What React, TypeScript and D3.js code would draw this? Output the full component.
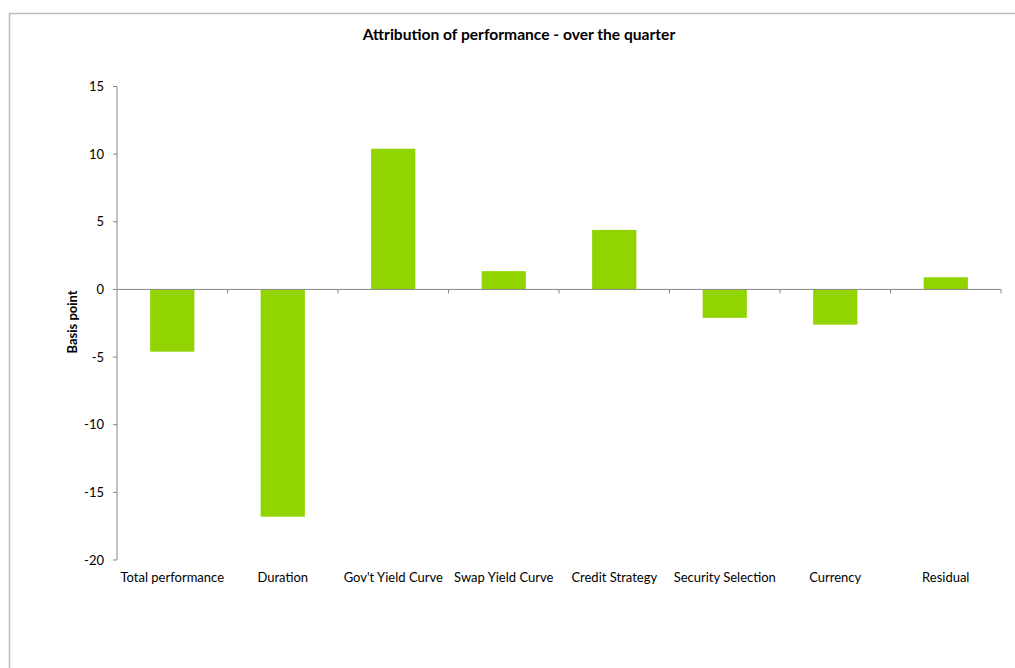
import React from "react";
import * as d3 from "d3";

const categories = ["Total performance", "Duration", "Gov't Yield Curve", "Swap Yield Curve", "Credit Strategy", "Security Selection", "Currency", "Residual"];
const values = [-4.6, -16.8, 10.4, 1.35, 4.4, -2.1, -2.6, 0.9];
const yTicks = [15, 10, 5, 0, -5, -10, -15, -20];

const W = 1015, H = 668;
const left = 117, right = 1001, top = 86.5, bottom = 560;

export default function App() {
  const x = d3.scaleBand<string>().domain(categories).range([left, right]).paddingInner(0.6).paddingOuter(0.3);
  const xb = d3.scaleBand<string>().domain(categories).range([left, right]);
  const y = d3.scaleLinear().domain([-20, 15]).range([bottom, top]);
  const font = "Lato, 'Open Sans', sans-serif";
  return (
    <svg width={W} height={H} style={{ position: "absolute", left: 0, top: 0 }}>
      <rect x={0} y={0} width={W} height={H} fill="#fff" />
      <rect x={9.5} y={13.5} width={W + 10} height={H + 10} fill="none" stroke="#bdbdbd" strokeWidth={1.5} />
      <text x={519} y={40} textAnchor="middle" fontFamily={font} fontWeight="bold" fontSize={15.6} fill="#000">
        Attribution of performance - over the quarter
      </text>
      {categories.map((c, i) => (
        <rect key={c} x={x(c)} y={Math.min(y(values[i]), y(0))} width={x.bandwidth()} height={Math.abs(y(values[i]) - y(0))} fill="#92d400" />
      ))}
      <line x1={left} x2={left} y1={top} y2={bottom} stroke="#868686" />
      {yTicks.map((t) => (
        <g key={t}>
          <line x1={left - 4} x2={left} y1={y(t)} y2={y(t)} stroke="#868686" />
          <text x={left - 13} y={y(t) + 4.5} textAnchor="end" fontFamily={font} fontSize={13} fill="#000">{t}</text>
        </g>
      ))}
      <line x1={left} x2={right} y1={y(0)} y2={y(0)} stroke="#868686" />
      {categories.map((c, i) => (
        <g key={c}>
          <line x1={(xb(c) as number) + xb.bandwidth()} x2={(xb(c) as number) + xb.bandwidth()} y1={y(0)} y2={y(0) + 4} stroke="#868686" />
          <text x={(xb(c) as number) + xb.bandwidth() / 2} y={582} textAnchor="middle" fontFamily={font} fontSize={13} fill="#000">{c}</text>
        </g>
      ))}
      <text transform={`translate(77,${y(-2.4)}) rotate(-90)`} textAnchor="middle" fontFamily={font} fontWeight="bold" fontSize={13} fill="#000">Basis point</text>
    </svg>
  );
}
